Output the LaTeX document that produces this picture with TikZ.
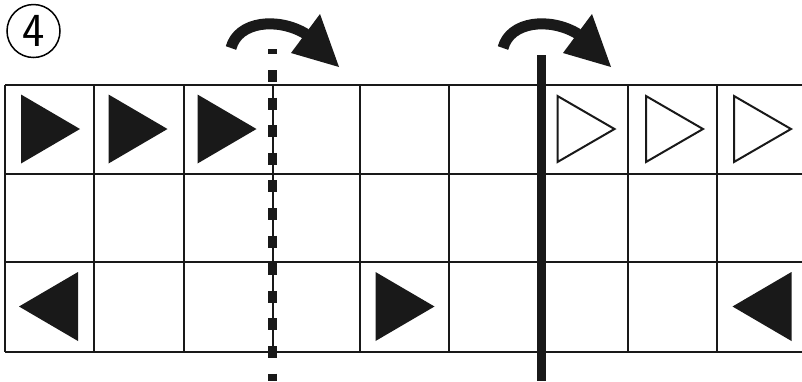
\documentclass[tikz,border=0pt]{standalone}
\tikzset{
  gridline/.style={line width=0.4mm,black!90},
  cutline/.style={line width=1.8mm,black!90},
  foldarrow/.style={line width=2.2mm,black!90},
  solidtri/.style={fill=black!90},
  opentri/.style={draw=black!90,line width=0.4mm,line join=miter}
}
\begin{document}
\begin{tikzpicture}[x=0.2mm,y=-0.2mm]
  \useasboundingbox (0,0) rectangle (802,381);
  % number
  \node[circle,draw,line width=0.3mm,minimum size=10.6mm,inner sep=0pt,
    font=\sffamily\fontsize{27}{27}\selectfont] (num) at (33.5,31) {4};
  % grid
  \foreach \y in {85,173.5,262,352}{\draw[gridline] (5,\y) -- (802,\y);}
  \foreach \x in {5,94,184,273,360,449,628,717}{\draw[gridline] (\x,85) -- (\x,352);}
  % triangles
  \foreach \cx/\cy in {50.5/129,138/129,227/129,405/306.5}{
    \fill[solidtri] (\cx-29.5,\cy-34.5) -- (\cx+29.5,\cy) -- (\cx-29.5,\cy+34.5) -- cycle;}
  \foreach \cx/\cy in {48.5/306.5,762/306.5}{
    \fill[solidtri] (\cx+29.5,\cy-34.5) -- (\cx-29.5,\cy) -- (\cx+29.5,\cy+34.5) -- cycle;}
  \foreach \cx/\cy in {586/129,674.5/129,762.5/129}{
    \draw[opentri] (\cx-28.5,\cy-33) -- (\cx+28.5,\cy) -- (\cx-28.5,\cy+33) -- cycle;}
  % fold lines
  \draw[cutline,dash pattern=on 2.4mm off 3.12mm,dash phase=1.32mm] (272.5,49) -- (272.5,381);
  \draw[cutline] (541.5,55) -- (541.5,381);
  % arrows
  \foreach \dx in {0,272}{
    \draw[foldarrow] (231+\dx,48) .. controls (238+\dx,21) and (278+\dx,17) .. (306+\dx,34);
    \fill[black!90] (291+\dx,53) -- (320+\dx,14) -- (339+\dx,67) -- cycle;}
\end{tikzpicture}
\end{document}
